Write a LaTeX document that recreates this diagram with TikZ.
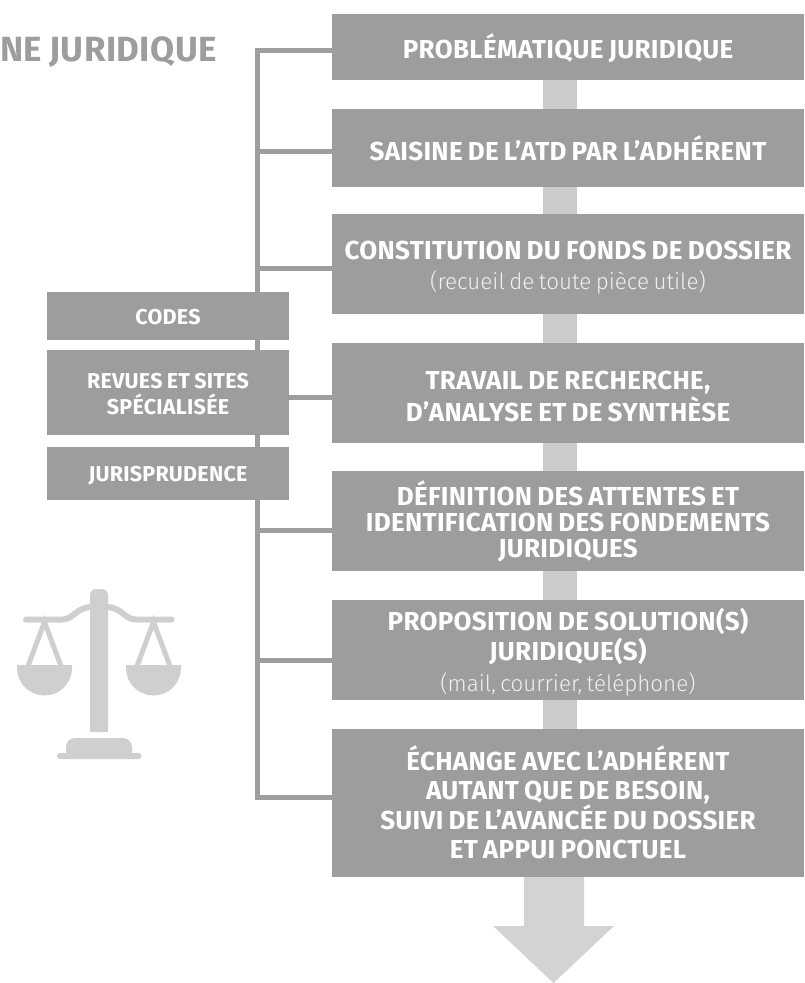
\documentclass[tikz,border=0pt]{standalone}
\usepackage{fontspec}
\setmainfont{Fira Sans}
\newfontfamily\bfam{Fira Sans}[UprightFont=* Bold,LetterSpace=1.2]
\newfontfamily\lfam{Fira Sans}[UprightFont=* Light]
\newcommand{\tightsp}{\spaceskip=.2em\relax}
\newcommand{\down}[1]{\tightsp\rule{0pt}{#1}}
\newcommand{\up}[1]{\rule[-#1]{0pt}{0pt}}
\newcommand{\subt}[1]{{\fontsize{22.4}{24}\lfam\tightsp\color{subg}#1}}
\definecolor{subg}{HTML}{F0F0F0}
\definecolor{boxg}{HTML}{9D9D9C}
\definecolor{linkg}{HTML}{CBCBCB}
\definecolor{arrowg}{HTML}{D1D3D4}
\definecolor{iconc}{HTML}{CFCFCF}
\begin{document}
\begin{tikzpicture}[x=1pt,y=-1pt,
  mainbox/.style={fill=boxg,text=white,inner sep=0pt,align=center,text width=472pt,font=\fontsize{26}{26}\bfam},
  mainwide/.style={mainbox,font=\fontsize{26}{#1}\bfam},
  sidebox/.style={fill=boxg,text=white,inner sep=0pt,align=center,text width=242pt,font=\fontsize{21.5}{26}\bfam},
  spine/.style={draw=boxg,line width=5pt},
  link/.style={draw=linkg,line width=34pt}]
\useasboundingbox (0,0) rectangle (804,983);
\clip (0,0) rectangle (804,983);
% nodes
\node[mainbox,minimum height=66pt] (b1) at (568,47) {\down{27.4pt}PROBLÉMATIQUE JURIDIQUE};
\node[mainbox,minimum height=78pt] (b2) at (568,148) {\tightsp SAISINE DE L’ATD PAR L’ADHÉRENT};
\node[mainbox,minimum height=100pt] (b3) at (568,264) {\down{26pt}CONSTITUTION DU FONDS DE DOSSIER\\[4pt]\subt{(recueil de toute pièce utile)}};
\node[mainwide=32,minimum height=100pt] (b4) at (568,393) {\down{26pt}TRAVAIL DE RECHERCHE,\\D’ANALYSE ET DE SYNTHÈSE};
\node[mainbox,minimum height=100pt] (b5) at (568,521) {\down{25.4pt}DÉFINITION DES ATTENTES ET\\IDENTIFICATION DES FONDEMENTS\\JURIDIQUES};
\node[mainwide=30.5,minimum height=100pt] (b6) at (568,650) {\down{26.3pt}PROPOSITION DE SOLUTION(S)\\JURIDIQUE(S)\\[0pt]\subt{(mail, courrier, téléphone)}};
\node[mainwide=29.5,minimum height=148pt] (b7) at (568,803) {\tightsp ÉCHANGE AVEC L’ADHÉRENT\\AUTANT QUE DE BESOIN,\\SUIVI DE L’AVANCÉE DU DOSSIER\\ET APPUI PONCTUEL\up{2pt}};
\node[text=boxg,anchor=east,inner sep=0pt,font=\fontsize{35}{36}\bfam] (title) at (217,52) {NE\kern.2em JURIDIQUE};
\coordinate (top) at (257,50);
\coordinate (bot) at (257,797);
% vertical links
\foreach \u/\v in {b1/b2,b2/b3,b3/b4,b4/b5,b5/b6,b6/b7}{
  \draw[link] ([xshift=-8pt]\u.south) -- ([xshift=-8pt]\v.north);
}
% spine and branches
\draw[spine,line cap=rect] (b1.west|-top) -- (top) -- (bot) -- (b7.west|-bot);
\foreach \y/\n in {151/b2,268/b3,530/b5,660/b6}{
  \coordinate (j) at (257,\y);
  \draw[spine] (j) -- (\n.west|-j);
}
% side boxes
\node[sidebox,minimum height=48pt] (s1) at (168,316) {\down{16.8pt}CODES};
\node[sidebox,minimum height=85pt] (s2) at (168,392.5) {\down{17.8pt}REVUES ET SITES\\SPÉCIALISÉE};
\node[sidebox,minimum height=53pt] (s3) at (168,473.5) {\down{18.8pt}JURISPRUDENCE};
\coordinate (j) at (300,397);
\draw[spine] (s2.east|-j) -- (b4.west|-j);
% big arrow
\fill[arrowg] (524,877) -- (584,877) -- (584,926) -- (614,926) -- (553.5,983) -- (493,926) -- (524,926) -- cycle;
% scales
\begin{scope}[iconc]
\fill[rounded corners=6pt] (90,732) -- (90,589) -- (108,589) -- (108,732) -- cycle;
\fill (90,700) rectangle (108,732);
\draw[line width=6pt,line cap=round] (26,619.5) -- (62,619.5) .. controls (74,619.5) and (76,607) .. (92,607);
\draw[line width=6pt,line cap=round] (171.5,619.5) -- (136,619.5) .. controls (124,619.5) and (122,607) .. (106,607);
\draw[line width=5pt] (28,666) -- (44.5,622) -- (61,666);
\draw[line width=5pt] (137,666) -- (153.5,622) -- (170,666);
\fill (17,665) -- (72,665) -- (72,668) arc[start angle=0,end angle=180,radius=27.5] -- cycle;
\fill (126,665) -- (181,665) -- (181,668) arc[start angle=0,end angle=180,radius=27.5] -- cycle;
\fill[rounded corners=9pt] (66,765) -- (66,738) -- (132,738) -- (132,765) -- cycle;
\fill[white] (50,759) rectangle (150,770);
\fill[rounded corners=3pt] (57,753) rectangle (141.5,759);
\end{scope}
\end{tikzpicture}
\end{document}
